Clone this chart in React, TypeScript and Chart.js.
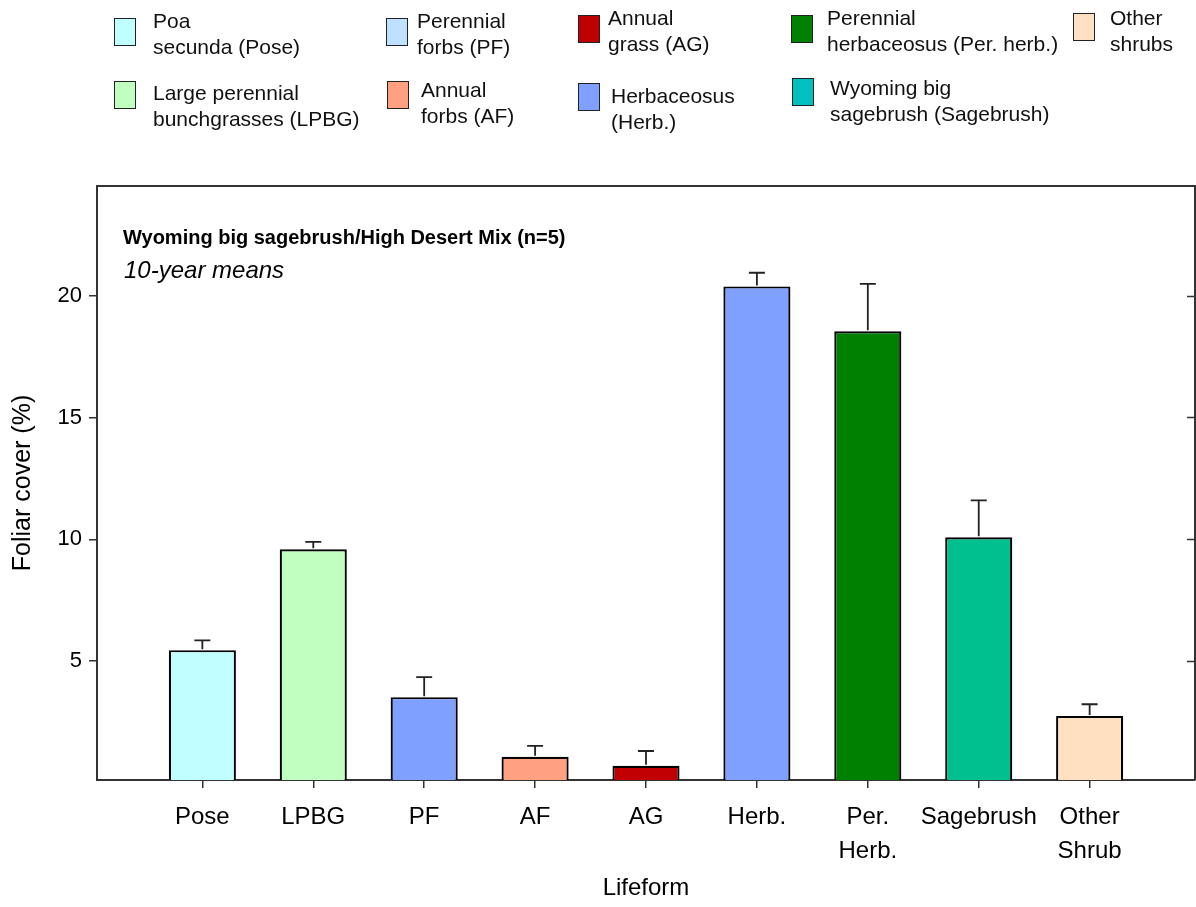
import React, { useEffect, useRef } from 'react';
import { Chart, registerables } from 'chart.js';

Chart.register(...registerables);

const FONT = "'Liberation Sans', Arial, Helvetica, sans-serif";

// ---- data ----
const categories = ['Pose', 'LPBG', 'PF', 'AF', 'AG', 'Herb.', 'Per. Herb.', 'Sagebrush', 'Other Shrub'];
const tickLabels: (string | string[])[] = ['Pose', 'LPBG', 'PF', 'AF', 'AG', 'Herb.', ['Per.', 'Herb.'], 'Sagebrush', ['Other', 'Shrub']];
const means = [5.45, 9.59, 3.52, 1.07, 0.7, 20.38, 18.54, 10.08, 2.75];
const errors = [0.4, 0.3, 0.82, 0.45, 0.61, 0.56, 1.94, 1.52, 0.48];
const barColors = ['#c0ffff', '#c0ffc0', '#80a0ff', '#ffa080', '#c00000', '#80a0ff', '#008000', '#00c090', '#ffe0c0'];
const yTicks = [5, 10, 15, 20];
const panelTitle = 'Wyoming big sagebrush/High Desert Mix (n=5)';
const panelSubtitle = '10-year means';
const xTitle = 'Lifeform';
const yTitle = 'Foliar cover (%)';

const legendLabels: string[][] = [
  ['Poa', 'secunda (Pose)'],
  ['Perennial', 'forbs (PF)'],
  ['Annual', 'grass (AG)'],
  ['Perennial', 'herbaceosus (Per. herb.)'],
  ['Other', 'shrubs'],
  ['Large perennial', 'bunchgrasses (LPBG)'],
  ['Annual', 'forbs (AF)'],
  ['Herbaceosus', '(Herb.)'],
  ['Wyoming big', 'sagebrush (Sagebrush)'],
];
const legendColors = ['#c0ffff', '#c0e0ff', '#c00000', '#008000', '#ffe0c0', '#c0ffc0', '#ffa080', '#80a0ff', '#00c0c0'];

// ---- layout (positions of legend entries) ----
const legendLayout = [
  { bx: 114, by: 18, tx: 153, ty: 8 },
  { bx: 386, by: 18, tx: 417, ty: 8 },
  { bx: 578, by: 15, tx: 608, ty: 5 },
  { bx: 791, by: 15, tx: 827, ty: 5 },
  { bx: 1073, by: 13, tx: 1110, ty: 5 },
  { bx: 114, by: 81, tx: 153, ty: 80 },
  { bx: 387, by: 81, tx: 421, ty: 77 },
  { bx: 578, by: 83, tx: 611, ty: 83 },
  { bx: 792, by: 78, tx: 830, ty: 75 },
];

const framePlugin = {
  id: 'frameAndErrors',
  afterDatasetsDraw(chart: any) {
    const { ctx, chartArea, scales } = chart;
    const { left, right, top, bottom } = chartArea;
    const ys = scales.y;
    ctx.save();
    // error bars
    const meta = chart.getDatasetMeta(0);
    ctx.strokeStyle = '#222';
    ctx.lineWidth = 1.8;
    meta.data.forEach((bar: any, i: number) => {
      const yTop = ys.getPixelForValue(means[i]);
      const yErr = ys.getPixelForValue(means[i] + errors[i]);
      const x = bar.x;
      ctx.beginPath();
      ctx.moveTo(x, yTop - 1);
      ctx.lineTo(x, yErr);
      ctx.moveTo(x - 8, yErr);
      ctx.lineTo(x + 8, yErr);
      ctx.stroke();
    });
    // top and right frame
    ctx.strokeStyle = '#333';
    ctx.lineWidth = 2;
    ctx.beginPath();
    ctx.moveTo(left, top);
    ctx.lineTo(right, top);
    ctx.lineTo(right, bottom);
    ctx.stroke();
    // right inward ticks
    ctx.lineWidth = 1.5;
    ctx.beginPath();
    yTicks.forEach((v) => {
      const y = Math.round(ys.getPixelForValue(v)) + 0.5;
      ctx.moveTo(right - 8, y);
      ctx.lineTo(right, y);
    });
    ctx.stroke();
    // panel titles
    ctx.fillStyle = '#000';
    ctx.textAlign = 'left';
    ctx.textBaseline = 'alphabetic';
    ctx.font = `bold 20px ${FONT}`;
    ctx.fillText(panelTitle, left + 26, 244);
    ctx.font = `italic 24px ${FONT}`;
    ctx.fillText(panelSubtitle, left + 27, 278);
    ctx.restore();
  },
};

export default function App() {
  const canvasRef = useRef<HTMLCanvasElement | null>(null);

  useEffect(() => {
    if (!canvasRef.current) return;
    Chart.defaults.font.family = FONT;
    const chart = new Chart(canvasRef.current, {
      type: 'bar',
      data: {
        labels: categories,
        datasets: [
          {
            data: means.map((v, i) => ({ x: i, y: v })) as any,
            backgroundColor: barColors,
            borderColor: '#000',
            borderWidth: 2.2,
            borderSkipped: false,
            barPercentage: 0.605,
            categoryPercentage: 1,
          },
        ],
      },
      options: {
        responsive: false,
        animation: false,
        events: [],
        layout: { padding: { top: 186, right: 1, left: 0, bottom: 0 } },
        plugins: {
          legend: { display: false },
          tooltip: { enabled: false },
          title: { display: false },
        },
        scales: {
          x: {
            type: 'linear',
            min: -0.95,
            max: 8.95,
            offset: false,
            afterBuildTicks: (s: any) => {
              s.ticks = categories.map((_, i) => ({ value: i }));
            },
            afterFit: (s: any) => {
              s.height = 127;
            },
            grid: {
              display: true,
              offset: false,
              drawOnChartArea: false,
              drawTicks: true,
              tickLength: 8,
              color: '#333',
              lineWidth: 1.5,
            },
            border: { display: true, color: '#333', width: 2 },
            ticks: {
              autoSkip: false,
              maxRotation: 0,
              minRotation: 0,
              padding: 13,
              color: '#000',
              font: { family: FONT, size: 24, lineHeight: 1.4 },
              callback: (v: any) => tickLabels[Math.round(Number(v))] ?? '',
            },
            title: {
              display: true,
              text: xTitle,
              color: '#000',
              font: { family: FONT, size: 24 },
              padding: { top: 4, bottom: 4 },
            },
          } as any,
          y: {
            min: 0.12,
            max: 24.5,
            afterBuildTicks: (s: any) => {
              s.ticks = yTicks.map((v) => ({ value: v }));
            },
            afterFit: (s: any) => {
              s.width = 97;
            },
            grid: {
              display: true,
              drawOnChartArea: false,
              drawTicks: true,
              tickLength: 8,
              color: '#333',
              lineWidth: 1.5,
            },
            border: { display: true, color: '#333', width: 2 },
            ticks: {
              padding: 7,
              color: '#000',
              font: { family: FONT, size: 22 },
            },
            title: {
              display: true,
              text: yTitle,
              color: '#000',
              font: { family: FONT, size: 25 },
              padding: { top: 8, bottom: 0 },
            },
          } as any,
        },
      },
      plugins: [framePlugin],
    });
    return () => chart.destroy();
  }, []);

  return (
    <div style={{ position: 'absolute', left: 0, top: 0, width: 1196, height: 907, background: '#fff', overflow: 'hidden' }}>
      <canvas ref={canvasRef} width={1196} height={907} style={{ position: 'absolute', left: 0, top: 0, display: 'block' }} />
      {legendLabels.map((lines, i) => {
        const p = legendLayout[i];
        return (
          <React.Fragment key={i}>
            <div
              style={{
                position: 'absolute',
                left: p.bx,
                top: p.by,
                width: 22,
                height: 28,
                boxSizing: 'border-box',
                border: '1.5px solid #222',
                background: legendColors[i],
              }}
            />
            <div
              style={{
                position: 'absolute',
                left: p.tx,
                top: p.ty,
                fontFamily: FONT,
                fontSize: 21,
                lineHeight: '26px',
                color: '#111',
                whiteSpace: 'nowrap',
              }}
            >
              {lines.map((l, j) => (
                <div key={j}>{l}</div>
              ))}
            </div>
          </React.Fragment>
        );
      })}
    </div>
  );
}
